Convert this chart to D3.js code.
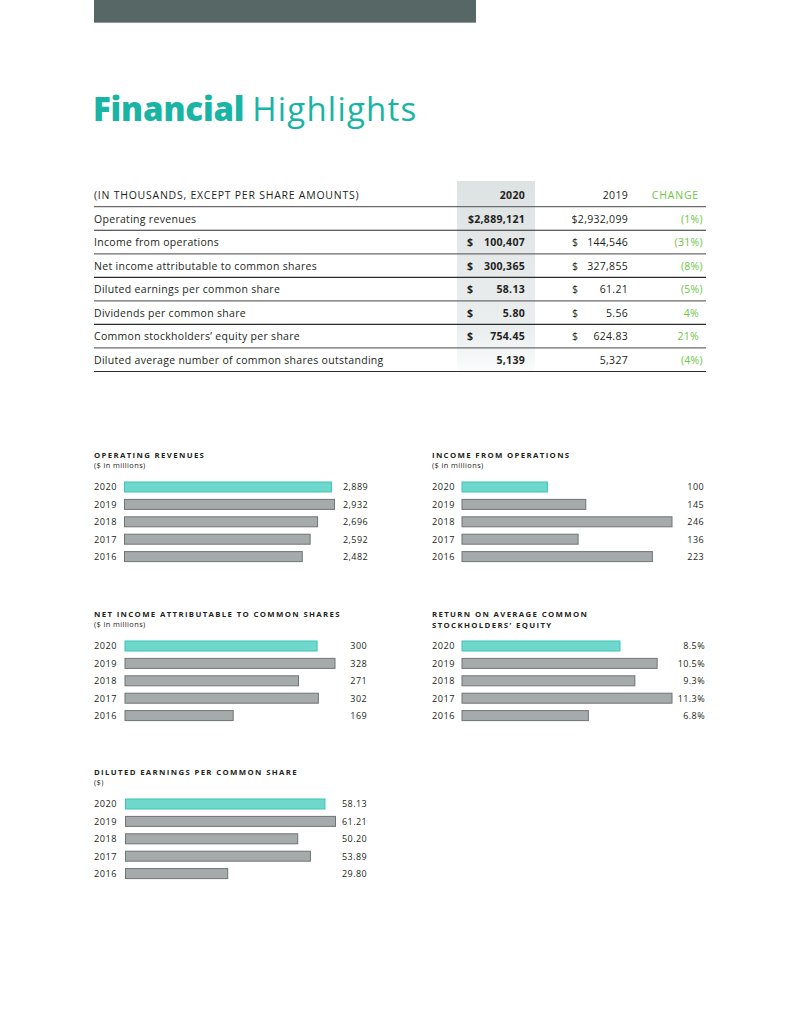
<!DOCTYPE html>
<html>
<head>
<meta charset="utf-8">
<script src="https://cdn.jsdelivr.net/npm/d3@7"></script>
<style>
  body { margin: 0; background: #fff; }
  svg { display: block; font-family: "Open Sans", "DejaVu Sans", sans-serif; }
</style>
</head>
<body>
<div id="chart"></div>
<script>
// table data
var tableHead = ["(IN THOUSANDS, EXCEPT PER SHARE AMOUNTS)", "2020", "2019", "CHANGE"];
var rowLabels = [
  "Operating revenues",
  "Income from operations",
  "Net income attributable to common shares",
  "Diluted earnings per common share",
  "Dividends per common share",
  "Common stockholders\u2019 equity per share",
  "Diluted average number of common shares outstanding"
];
var values2020 = ["$2,889,121", "100,407", "300,365", "58.13", "5.80", "754.45", "5,139"];
var values2019 = ["$2,932,099", "144,546", "327,855", "61.21", "5.56", "624.83", "5,327"];
var dollarSign = [false, true, true, true, true, true, false];
var changes = ["(1%)", "(31%)", "(8%)", "(5%)", "4%", "21%", "(4%)"];

// bar chart data
var years = ["2020", "2019", "2018", "2017", "2016"];
var operatingRevenues = [2889, 2932, 2696, 2592, 2482];
var incomeFromOps = [100, 145, 246, 136, 223];
var netIncome = [300, 328, 271, 302, 169];
var returnOnEquity = [8.5, 10.5, 9.3, 11.3, 6.8];
var dilutedEps = [58.13, 61.21, 50.20, 53.89, 29.80];

var width = 800, height = 1024;
var teal = "#1ab4a5";
var green = "#6cc644";

var svg = d3.select("#chart").append("svg")
  .attr("width", width)
  .attr("height", height);

var defs = svg.append("defs");
var grad = defs.append("linearGradient").attr("id", "colfade")
  .attr("x1", 0).attr("y1", 0).attr("x2", 0).attr("y2", 1);
grad.append("stop").attr("offset", "0%").attr("stop-color", "#dde2e3");
grad.append("stop").attr("offset", "80%").attr("stop-color", "#eceff0");
grad.append("stop").attr("offset", "100%").attr("stop-color", "#fbfcfc");

// top banner
svg.append("rect").attr("x", 94).attr("y", 0).attr("width", 382).attr("height", 23).attr("fill", "#566765");
svg.append("rect").attr("x", 94).attr("y", 22).attr("width", 382).attr("height", 1).attr("fill", "#8d9a98");

// title
var title = svg.append("text").attr("x", 93).attr("y", 121)
  .attr("font-size", 33).attr("fill", teal);
title.append("tspan").attr("font-weight", 800).attr("letter-spacing", -0.2).text("Financial");
title.append("tspan").attr("font-weight", 400).attr("letter-spacing", 1.2).attr("dx", 8).text("Highlights");

// ---- table ----
var lineY = d3.scaleLinear().domain([0, 7]).range([206.7, 371.5]);

svg.append("rect").attr("x", 457).attr("y", 181).attr("width", 78).attr("height", 190)
  .attr("fill", "url(#colfade)");

var tg = svg.append("g").attr("font-size", 10.5).attr("letter-spacing", 0.3).attr("fill", "#231f20");

tg.append("text").attr("x", 94).attr("y", 199).attr("letter-spacing", 0.75).text(tableHead[0]);
tg.append("text").attr("x", 525).attr("y", 199).attr("text-anchor", "end").attr("font-weight", 700).text(tableHead[1]);
tg.append("text").attr("x", 628).attr("y", 199).attr("text-anchor", "end").text(tableHead[2]);
tg.append("text").attr("x", 699).attr("y", 199).attr("text-anchor", "end").attr("letter-spacing", 0.8).attr("fill", green).text(tableHead[3]);

tg.selectAll("line.rule")
  .data(d3.range(8))
  .enter().append("line")
  .attr("class", "rule")
  .attr("x1", 94).attr("x2", 706)
  .attr("y1", function(d) { return lineY(d); })
  .attr("y2", function(d) { return lineY(d); })
  .attr("stroke", function(d) { return d % 2 ? "#2b2b2b" : "#6b6b6b"; })
  .attr("stroke-width", 1.2);

var rows = tg.selectAll("g.row")
  .data(rowLabels)
  .enter().append("g")
  .attr("class", "row")
  .attr("transform", function(d, i) { return "translate(0," + (lineY(i + 1) - 7.5) + ")"; });

rows.append("text").attr("x", 94).text(function(d) { return d; });

rows.append("text").attr("x", 467).attr("font-weight", 700)
  .text(function(d, i) { return dollarSign[i] ? "$" : ""; });
rows.append("text").attr("x", 525).attr("text-anchor", "end").attr("font-weight", 700)
  .text(function(d, i) { return values2020[i]; });

rows.append("text").attr("x", 572)
  .text(function(d, i) { return dollarSign[i] ? "$" : ""; });
rows.append("text").attr("x", 628).attr("text-anchor", "end")
  .text(function(d, i) { return values2019[i]; });

rows.append("text")
  .attr("x", function(d, i) { return changes[i].indexOf("(") === 0 ? 703 : 699; })
  .attr("text-anchor", "end").attr("fill", green)
  .text(function(d, i) { return changes[i]; });

// ---- bar panels ----
var panels = [
  { title: ["OPERATING REVENUES"], sub: "($ in millions)", values: operatingRevenues, fmt: d3.format(",.0f"), x: 94, y: 458, barX: 124.5, labelX: 368 },
  { title: ["INCOME FROM OPERATIONS"], sub: "($ in millions)", values: incomeFromOps, fmt: d3.format(".0f"), x: 432, y: 458, barX: 462, labelX: 704 },
  { title: ["NET INCOME ATTRIBUTABLE TO COMMON SHARES"], sub: "($ in millions)", values: netIncome, fmt: d3.format(".0f"), x: 94, y: 617, barX: 125, labelX: 367 },
  { title: ["RETURN ON AVERAGE COMMON", "STOCKHOLDERS\u2019 EQUITY"], sub: null, values: returnOnEquity, fmt: function(v) { return d3.format(".1f")(v) + "%"; }, x: 432, y: 617, barX: 462, labelX: 705 },
  { title: ["DILUTED EARNINGS PER COMMON SHARE"], sub: "($)", values: dilutedEps, fmt: d3.format(".2f"), x: 94, y: 775, barX: 125.5, labelX: 367 }
];

var step = 17.4;

panels.forEach(function(p) {
  var g = svg.append("g");

  p.title.forEach(function(t, i) {
    g.append("text").attr("x", p.x).attr("y", p.y + i * 10.5)
      .attr("font-size", 7.8).attr("font-weight", 700).attr("letter-spacing", 1.35)
      .attr("fill", "#231f20").text(t);
  });
  if (p.sub) {
    g.append("text").attr("x", p.x).attr("y", p.y + 10)
      .attr("font-size", 7.4).attr("letter-spacing", 0.4).attr("fill", "#231f20").text(p.sub);
  }

  var top = p.y + 20.3;
  var y = d3.scaleBand().domain(years)
    .range([top, top + years.length * step])
    .paddingInner(0.425).paddingOuter(0.2125);
  var x = d3.scaleLinear().domain([0, d3.max(p.values)]).range([p.barX, p.barX + 210]);

  var data = years.map(function(yr, i) { return { year: yr, value: p.values[i] }; });

  g.selectAll("rect.bar")
    .data(data)
    .enter().append("rect")
    .attr("class", "bar")
    .attr("x", x(0))
    .attr("y", function(d) { return y(d.year); })
    .attr("width", function(d) { return x(d.value) - x(0); })
    .attr("height", y.bandwidth())
    .attr("fill", function(d, i) { return i === 0 ? "#6fd8cd" : "#a5abaa"; })
    .attr("stroke", function(d, i) { return i === 0 ? "#3cc3b5" : "#6f7574"; })
    .attr("stroke-width", 1);

  g.selectAll("text.year")
    .data(data)
    .enter().append("text")
    .attr("class", "year")
    .attr("x", p.x)
    .attr("y", function(d) { return y(d.year) + y.bandwidth() / 2 + 3.3; })
    .attr("font-size", 9.2).attr("letter-spacing", 0.5).attr("fill", "#231f20")
    .text(function(d) { return d.year; });

  g.selectAll("text.val")
    .data(data)
    .enter().append("text")
    .attr("class", "val")
    .attr("x", p.labelX)
    .attr("y", function(d) { return y(d.year) + y.bandwidth() / 2 + 3.3; })
    .attr("text-anchor", "end")
    .attr("font-size", 9).attr("letter-spacing", 0.4).attr("fill", "#231f20")
    .text(function(d) { return p.fmt(d.value); });
});
</script>
</body>
</html>
